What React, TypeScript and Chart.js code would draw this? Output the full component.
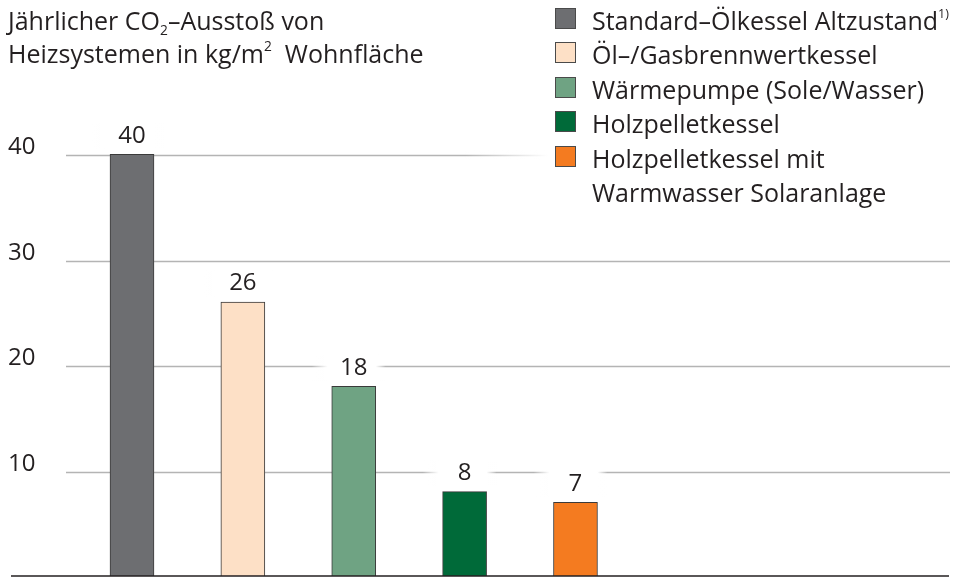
import React, { useEffect, useRef } from 'react';
import { Chart, registerables } from 'chart.js';

Chart.register(...registerables);

// ---- data ----
const categories = [
  'Standard–Ölkessel Altzustand',
  'Öl–/Gasbrennwertkessel',
  'Wärmepumpe (Sole/Wasser)',
  'Holzpelletkessel',
  'Holzpelletkessel mit\nWarmwasser Solaranlage',
];
const footnotes = ['1)', '', '', '', ''];
const values = [40, 26, 18, 8, 7];
const barColors = ['#6d6e71', '#fde0c6', '#6fa383', '#006a39', '#f47b20'];
const yTicks = [10, 20, 30, 40];

const FONT = '"Open Sans", sans-serif';
const TEXT = '#231f20';

export default function App() {
  const ref = useRef<HTMLCanvasElement | null>(null);

  useEffect(() => {
    const canvas = ref.current;
    if (!canvas) return;

    const decor = {
      id: 'decor',
      beforeDatasetsDraw(chart: any) {
        const { ctx } = chart;
        const y = chart.scales.y;
        ctx.save();
        // gridlines + tick labels
        ctx.strokeStyle = '#b4b4b4';
        ctx.lineWidth = 1.5;
        ctx.fillStyle = TEXT;
        ctx.font = `24px ${FONT}`;
        ctx.textAlign = 'left';
        ctx.textBaseline = 'alphabetic';
        yTicks.forEach((t) => {
          const py = Math.round(y.getPixelForValue(t)) + 1.5;
          ctx.beginPath();
          ctx.moveTo(66, py);
          ctx.lineTo(950, py);
          ctx.stroke();
          ctx.fillText(String(t), 8, py - 2);
        });
        // fade of top gridline into legend
        const py40 = y.getPixelForValue(yTicks[yTicks.length - 1]);
        const g = ctx.createLinearGradient(465, 0, 548, 0);
        g.addColorStop(0, 'rgba(255,255,255,0)');
        g.addColorStop(1, 'rgba(255,255,255,1)');
        ctx.fillStyle = g;
        ctx.fillRect(465, py40 - 4, 491, 9);
        // white patches behind value labels
        chart.data.datasets.forEach((_ds: any, i: number) => {
          const el = chart.getDatasetMeta(i).data[0];
          if (!el) return;
          const cx = el.x;
          const base = el.y - 11.5;
          const top = base - 20;
          const gr = ctx.createLinearGradient(cx - 42, 0, cx + 32, 0);
          gr.addColorStop(0, 'rgba(255,255,255,0)');
          gr.addColorStop(16 / 74, 'rgba(255,255,255,1)');
          gr.addColorStop(64 / 74, 'rgba(255,255,255,1)');
          gr.addColorStop(1, 'rgba(255,255,255,0)');
          ctx.fillStyle = gr;
          ctx.fillRect(cx - 42, top, 74, 26);
        });
        ctx.restore();
      },
      afterDatasetsDraw(chart: any) {
        const { ctx } = chart;
        const y = chart.scales.y;
        ctx.save();
        ctx.fillStyle = TEXT;
        ctx.font = `24px ${FONT}`;
        ctx.textAlign = 'center';
        ctx.textBaseline = 'alphabetic';
        chart.data.datasets.forEach((ds: any, i: number) => {
          const el = chart.getDatasetMeta(i).data[0];
          if (!el) return;
          ctx.fillText(String(ds.data[0].y), el.x, el.y - 11.5);
        });
        // baseline axis
        const py0 = y.getPixelForValue(0);
        ctx.strokeStyle = '#231f20';
        ctx.lineWidth = 1.6;
        ctx.beginPath();
        ctx.moveTo(11, py0);
        ctx.lineTo(949, py0);
        ctx.stroke();
        ctx.restore();
      },
    };

    const chart = new Chart(canvas, {
      type: 'bar',
      data: {
        datasets: values.map((v, i) => ({
          label: categories[i],
          data: [{ x: i + 1, y: v }],
          backgroundColor: barColors[i],
          borderColor: '#3a3a3a',
          borderWidth: 1,
          barThickness: 44,
          grouped: false,
        })),
      },
      options: {
        animation: false,
        responsive: false,
        events: [],
        layout: { padding: { left: 11, right: 7, top: 49, bottom: 1 } },
        plugins: {
          legend: { display: false },
          tooltip: { enabled: false },
          title: { display: false },
        },
        scales: {
          x: { type: 'linear', min: -0.0913, max: 8.369, offset: false, display: false },
          y: { min: 0, max: 50, display: false },
        },
      },
      plugins: [decor],
    } as any);

    return () => chart.destroy();
  }, []);

  return (
    <div
      style={{
        position: 'fixed',
        left: 0,
        top: 0,
        width: 956,
        height: 577,
        background: '#fff',
        fontFamily: FONT,
        color: TEXT,
        overflow: 'hidden',
      }}
    >
      <canvas
        ref={ref}
        width={956}
        height={577}
        style={{ position: 'absolute', left: 0, top: 0, width: 956, height: 577 }}
      />
      <div
        style={{
          position: 'absolute',
          left: 8,
          top: 4,
          fontSize: 25,
          lineHeight: '33px',
          whiteSpace: 'nowrap',
        }}
      >
        <div>
          Jährlicher CO
          <span style={{ fontSize: '55%', position: 'relative', top: '0.35em', lineHeight: 0 }}>2</span>
          –Ausstoß von
        </div>
        <div>
          Heizsystemen in kg/m
          <span style={{ fontSize: '55%', position: 'relative', top: '-0.85em', lineHeight: 0 }}>2</span>
          {'\u00a0\u00a0'}Wohnfläche
        </div>
      </div>
      <div
        style={{
          position: 'absolute',
          left: 592,
          top: 3,
          fontSize: 25,
          lineHeight: '34.4px',
          whiteSpace: 'pre-line',
        }}
      >
        {categories.map((c, i) => (
          <div key={i} style={{ position: 'relative' }}>
            <span
              style={{
                position: 'absolute',
                left: -37,
                top: 5,
                width: 19,
                height: 19,
                background: barColors[i],
                border: '1px solid #4a4a4a',
              }}
            />
            {c}
            {footnotes[i] ? (
              <span style={{ fontSize: '50%', position: 'relative', top: '-0.95em', lineHeight: 0 }}>
                {footnotes[i]}
              </span>
            ) : null}
          </div>
        ))}
      </div>
    </div>
  );
}
